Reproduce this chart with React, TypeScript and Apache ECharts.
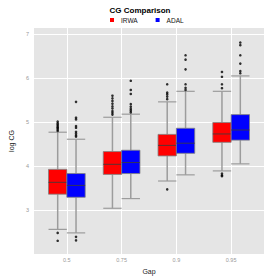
import React, { useEffect, useRef } from 'react';
import * as echarts from 'echarts';

const categories = ['0.5', '0.75', '0.9', '0.95'];
const seriesNames = ['IRWA', 'ADAL'];
const seriesColors = ['#ff0000', '#0000ff'];
const yTicks = [3, 4, 5, 6, 7];

// [lowerWhisker, q1, median, q3, upperWhisker] per category
const irwaBoxes = [
  [2.56, 3.36, 3.63, 3.925, 4.77],
  [3.04, 3.81, 4.04, 4.33, 5.11],
  [3.66, 4.23, 4.47, 4.72, 5.46],
  [3.89, 4.54, 4.73, 4.99, 5.70],
];
const adalBoxes = [
  [2.48, 3.29, 3.56, 3.83, 4.61],
  [3.26, 3.83, 4.08, 4.36, 5.18],
  [3.80, 4.29, 4.52, 4.86, 5.70],
  [4.05, 4.59, 4.82, 5.17, 6.05],
];
const irwaOutliers = [
  [2.48, 2.30, 4.80, 4.83, 4.86, 4.88, 4.91, 4.94, 4.97, 5.01],
  [5.17, 5.21, 5.25, 5.31, 5.36, 5.42, 5.48, 5.54, 5.60],
  [3.47, 5.52, 5.58, 5.63, 5.67, 5.86],
  [3.77, 3.79, 3.83, 5.77, 5.86, 6.03, 6.14],
];
const adalOutliers = [
  [2.39, 2.31, 4.67, 4.70, 4.74, 4.78, 4.87, 4.91, 5.06, 5.10, 5.46],
  [5.22, 5.26, 5.30, 5.35, 5.41, 5.64, 5.73, 5.94],
  [5.73, 5.78, 5.86, 6.20, 6.42, 6.52],
  [6.11, 6.16, 6.33, 6.52, 6.75, 6.81],
];

const BOX_FRAC = 0.335; // width of one box in category units
const WHISKER = '#9c9c9c';
const FONT = 'Liberation Sans';

function makeRender(side: number, fill: string) {
  return (params: any, api: any) => {
    const xi = api.value(0);
    const v = [1, 2, 3, 4, 5].map((i) => api.value(i));
    const band = api.size([1, 0])[0];
    const w = band * BOX_FRAC;
    const cx = api.coord([xi, 0])[0] + (side * w) / 2;
    const y = (val: number) => api.coord([xi, val])[1];
    const left = cx - w / 2;
    const right = cx + w / 2;
    return {
      type: 'group',
      children: [
        { type: 'line', shape: { x1: cx, y1: y(v[4]), x2: cx, y2: y(v[3]) }, style: { stroke: WHISKER, lineWidth: 1.5 } },
        { type: 'line', shape: { x1: cx, y1: y(v[1]), x2: cx, y2: y(v[0]) }, style: { stroke: WHISKER, lineWidth: 1.5 } },
        { type: 'line', shape: { x1: left, y1: y(v[4]), x2: right, y2: y(v[4]) }, style: { stroke: WHISKER, lineWidth: 1.2 } },
        { type: 'line', shape: { x1: left, y1: y(v[0]), x2: right, y2: y(v[0]) }, style: { stroke: WHISKER, lineWidth: 1.2 } },
        {
          type: 'rect',
          shape: { x: left, y: y(v[3]), width: w, height: y(v[1]) - y(v[3]) },
          style: { fill, stroke: '#808080', lineWidth: 0.8 },
        },
        { type: 'line', shape: { x1: left, y1: y(v[2]), x2: right, y2: y(v[2]) }, style: { stroke: 'rgba(60,60,60,0.85)', lineWidth: 1 } },
      ],
    };
  };
}

export default function App() {
  const ref = useRef<HTMLDivElement>(null);
  useEffect(() => {
    if (!ref.current) return;
    const chart = echarts.init(ref.current, null, { renderer: 'svg' });
    const boxSets = [irwaBoxes, adalBoxes];
    const outSets = [irwaOutliers, adalOutliers];
    const series: any[] = [];
    seriesNames.forEach((name, s) => {
      const side = s === 0 ? -1 : 1;
      series.push({
        type: 'custom',
        name,
        renderItem: makeRender(side, seriesColors[s]),
        itemStyle: { color: seriesColors[s] },
        encode: { x: 0, y: [1, 2, 3, 4, 5] },
        data: boxSets[s].map((b, i) => [i, ...b]),
        z: 2,
      });
    });
    seriesNames.forEach((name, s) => {
      const side = s === 0 ? -1 : 1;
      series.push({
        type: 'scatter',
        name: name + ' outliers',
        symbol: 'circle',
        symbolSize: 2.6,
        itemStyle: { color: '#000' },
        data: outSets[s].flatMap((vals, i) => vals.map((val) => [i + (side * BOX_FRAC) / 2, val])),
        z: 3,
      });
    });
    chart.setOption({
      animation: false,
      textStyle: { fontFamily: FONT },
      title: {
        text: 'CG Comparison',
        left: 'center',
        top: 1,
        textStyle: { fontSize: 8, fontWeight: 'bold', color: '#000', fontFamily: FONT },
      },
      legend: {
        data: seriesNames,
        icon: 'rect',
        itemWidth: 4,
        itemHeight: 4,
        itemGap: 18,
        left: 105,
        top: 11.5,
        textStyle: { fontSize: 6.5, color: '#111', padding: [0, 0, 0, 2], fontFamily: FONT },
      },
      grid: {
        left: 24,
        right: 16,
        top: 28,
        bottom: 26,
        show: true,
        backgroundColor: '#e5e5e5',
        borderWidth: 0,
      },
      xAxis: {
        type: 'value',
        min: -0.6,
        max: 3.6,
        axisLine: { show: false },
        axisTick: { show: false, customValues: [0, 1, 2, 3] },
        axisLabel: {
          customValues: [0, 1, 2, 3],
          formatter: (v: number) => categories[Math.round(v)] ?? '',
          fontSize: 5.5,
          color: '#999',
          margin: 3,
        },
        splitLine: { show: true, lineStyle: { color: '#ffffff', width: 1 } },
        name: 'Gap',
        nameLocation: 'middle',
        nameGap: 13,
        nameTextStyle: { fontSize: 7, color: '#222' },
      },
      yAxis: {
        type: 'value',
        min: 2.0,
        max: 7.14,
        axisLine: { show: false },
        axisTick: { show: false, customValues: yTicks },
        axisLabel: { customValues: yTicks, fontSize: 5.5, color: '#999', margin: 5 },
        splitLine: { show: true, lineStyle: { color: '#ffffff', width: 1 } },
        name: 'log CG',
        nameLocation: 'middle',
        nameGap: 19,
        nameTextStyle: { fontSize: 7, color: '#222' },
      },
      series,
    });
    return () => chart.dispose();
  }, []);
  return (
    <div
      ref={ref}
      style={{ position: 'fixed', left: 0, top: 0, width: 280, height: 280, background: '#fff' }}
    />
  );
}
